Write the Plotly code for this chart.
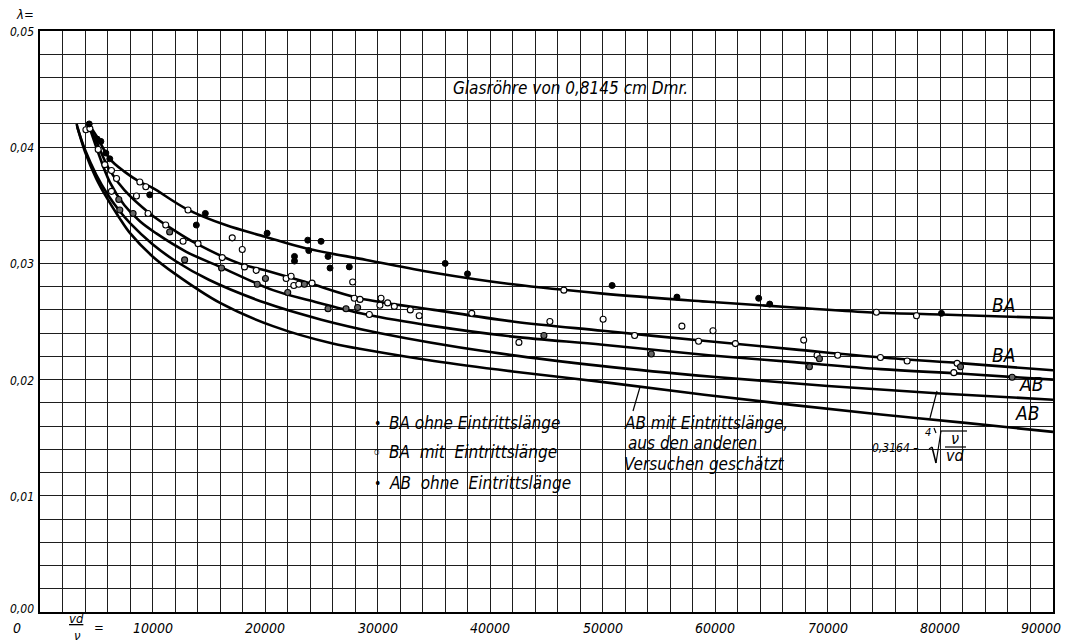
import plotly.graph_objects as go

# ---------------- data ----------------
# curves: Reynolds number vd/nu  and  lambda
ba_ohne_curve_v = [4300, 5000, 6200, 7500, 8900, 10000, 13000, 16500, 20000, 23600, 29000, 35000, 42000, 50000, 59400, 67000, 73500, 80000, 90000]
ba_ohne_curve_l = [0.0420, 0.0410, 0.0390, 0.0379, 0.0370, 0.0365, 0.0347, 0.0333, 0.0323, 0.0313, 0.0303, 0.0292, 0.0282, 0.0274, 0.0267, 0.0262, 0.0258, 0.0256, 0.0253]

ba_mit_curve_v = [4300, 5000, 6200, 7500, 9750, 12000, 13900, 17700, 20000, 23600, 28400, 35000, 42000, 50000, 59400, 67000, 74700, 82000, 90000]
ba_mit_curve_l = [0.0420, 0.0405, 0.0380, 0.0363, 0.0343, 0.0328, 0.0317, 0.0300, 0.0294, 0.0284, 0.0270, 0.0260, 0.0250, 0.0242, 0.0233, 0.0226, 0.0219, 0.0214, 0.0208]

ab_ohne_curve_v = [4300, 5000, 6200, 7500, 8900, 10300, 13000, 16000, 20700, 24000, 29000, 35000, 42000, 50000, 59400, 67000, 74700, 82000, 90000]
ab_ohne_curve_l = [0.0420, 0.0400, 0.0370, 0.0350, 0.0336, 0.0326, 0.0310, 0.0297, 0.0277, 0.0268, 0.0256, 0.0246, 0.0237, 0.0230, 0.0221, 0.0215, 0.0209, 0.0205, 0.0200]

blasius_v = [3300, 4000, 5000, 6000, 7000, 8000, 10000, 12000, 15000, 20000, 25000, 30000, 40000, 50000, 60000, 70000, 80000, 90000]
blasius_l = [0.04175, 0.03978, 0.03763, 0.03595, 0.03459, 0.03346, 0.03164, 0.03023, 0.02859, 0.02661, 0.02516, 0.02404, 0.02237, 0.02116, 0.02022, 0.01945, 0.01881, 0.01827]

ab_mit_curve_v = [3250, 4000, 5000, 5900, 7000, 8000, 10000, 12000, 16000, 20700, 26000, 29300, 35000, 42000, 50800, 59000, 67000, 74700, 82000, 90000]
ab_mit_curve_l = [0.0420, 0.0396, 0.0373, 0.0357, 0.0340, 0.0326, 0.0306, 0.0291, 0.0266, 0.0246, 0.0231, 0.0225, 0.0216, 0.0207, 0.0197, 0.0187, 0.0178, 0.0170, 0.0163, 0.0155]

# measured points
ba_ohne_v = [4370, 5080, 5410, 5850, 6200, 9750, 14690, 13890, 20180, 23790, 24970, 23880, 22610, 22610, 25590, 25770, 27480, 36000, 37980, 50830, 56590, 63850, 64830, 80090]
ba_ohne_l = [0.0420, 0.0407, 0.0405, 0.0395, 0.0390, 0.0359, 0.0343, 0.0333, 0.0326, 0.0320, 0.0319, 0.0311, 0.0306, 0.0302, 0.0306, 0.0296, 0.0297, 0.0300, 0.0291, 0.0281, 0.0271, 0.0270, 0.0265, 0.0257]

ba_mit_v = [4080, 4430, 5170, 5760, 6350, 6800, 8870, 9400, 8570, 6350, 9600, 11170, 12710, 14040, 13150, 16190, 17080, 17970, 18170, 19210,
            21870, 22310, 22550, 22990, 24170, 27780, 27920, 28430, 29260, 30300, 30200, 30890, 31480, 32900, 33690, 38360, 42550, 45300,
            46540, 50030, 52830, 57030, 58510, 59790, 61780, 67850, 69040, 70870, 74310, 74670, 77040, 77870, 81480, 81190]
ba_mit_l = [0.0415, 0.0416, 0.0398, 0.0385, 0.0380, 0.0373, 0.0370, 0.0366, 0.0358, 0.0362, 0.0343, 0.0333, 0.0319, 0.0317, 0.0346, 0.0305, 0.0322, 0.0312, 0.0297, 0.0294,
            0.0287, 0.0289, 0.0281, 0.0282, 0.0283, 0.0284, 0.0270, 0.0269, 0.0256, 0.0270, 0.0264, 0.0266, 0.0263, 0.0260, 0.0255, 0.0257, 0.0232, 0.0250,
            0.0277, 0.0252, 0.0238, 0.0246, 0.0233, 0.0242, 0.0231, 0.0234, 0.0221, 0.0221, 0.0258, 0.0219, 0.0216, 0.0255, 0.0214, 0.0206]

ab_ohne_v = [7000, 7090, 8270, 11520, 12850, 16130, 19300, 20030, 22010, 23490, 25590, 27190, 28220, 44770, 54310, 69250, 68360, 81780, 86370]
ab_ohne_l = [0.0355, 0.0346, 0.0343, 0.0327, 0.0303, 0.0296, 0.0282, 0.0287, 0.0275, 0.0282, 0.0261, 0.0261, 0.0262, 0.0238, 0.0222, 0.0218, 0.0211, 0.0211, 0.0202]

x_tick_vals = [10000, 20000, 30000, 40000, 50000, 60000, 70000, 80000]
x_tick_text = ["10000", "20000", "30000", "40000", "50000", "60000", "70000", "80000"]
y_tick_vals = [0.01, 0.02, 0.03, 0.04, 0.05]
y_tick_text = ["0,01", "0,02", "0,03", "0,04", "0,05"]

# ---------------- layout geometry (page pixels) ----------------
PAGE = 8                      # default body margin of the html page
W, H = 1075 - PAGE, 644 - PAGE
L, R, T, B = 40, 1053, 31, 612   # wanted plot area in page pixels
XMAX, YMAX = 90000, 0.05
FONT = "DejaVu Sans Condensed, DejaVu Sans, Liberation Sans"


def X(px):
    return (px - L) / (R - L) * XMAX


def Y(py):
    return (B - py) / (B - T) * YMAX


def PX(px):
    return (px - L) / (R - L)


def PY(py):
    return (B - py) / (B - T)


fig = go.Figure()

curve_style = dict(color="black", width=2.6, shape="spline", smoothing=1.0)
for cv, cl in [(ba_ohne_curve_v, ba_ohne_curve_l), (ba_mit_curve_v, ba_mit_curve_l),
               (ab_ohne_curve_v, ab_ohne_curve_l), (blasius_v, blasius_l),
               (ab_mit_curve_v, ab_mit_curve_l)]:
    fig.add_trace(go.Scatter(x=cv, y=cl, mode="lines", line=curve_style,
                             hoverinfo="skip", showlegend=False))

fig.add_trace(go.Scatter(x=ba_mit_v, y=ba_mit_l, mode="markers",
                         marker=dict(symbol="circle", size=6, color="white",
                                     line=dict(color="black", width=1.1)),
                         showlegend=False))
fig.add_trace(go.Scatter(x=ab_ohne_v, y=ab_ohne_l, mode="markers",
                         marker=dict(symbol="circle", size=6, color="#666666",
                                     line=dict(color="black", width=1.1)),
                         showlegend=False))
fig.add_trace(go.Scatter(x=ba_ohne_v, y=ba_ohne_l, mode="markers",
                         marker=dict(symbol="circle", size=6, color="black",
                                     line=dict(color="black", width=1)),
                         showlegend=False))

ann = []


def txt(s, px, py, size=13, xa="center", ya="middle"):
    ann.append(dict(text=s, x=PX(px), y=PY(py), xref="paper", yref="paper", showarrow=False,
                    xanchor=xa, yanchor=ya,
                    font=dict(family=FONT, size=size, color="black", style="italic")))


# axis labels
for v, t in zip(x_tick_vals, x_tick_text):
    txt(t, L + v / XMAX * (R - L), 628, size=14)
txt("0", 17, 628, size=14)
txt("90000", 1041, 628, size=14)
for v, t in zip(y_tick_vals, y_tick_text):
    txt(t, 36, B - v / YMAX * (B - T) + 1, size=12, xa="right")
txt("0,00", 36, 609, size=12, xa="right")
txt("λ=", 25, 15, size=13)
txt("<u>vd</u>", 76, 618, size=13)
txt("ν", 77, 635, size=13)
txt("=", 99, 627, size=13)

# title inside plot
txt("Glasröhre von 0,8145 cm Dmr.", 570, 88, size=17)

# legend rows
txt("•", 377, 423, size=14)
txt("BA ohne Eintrittslänge", 387, 423, size=17, xa="left")
txt("◦", 377, 452, size=18)
txt("BA  mit  Eintrittslänge", 387, 452, size=17, xa="left")
txt("•", 377, 483, size=14)
txt("AB  ohne  Eintrittslänge", 387, 483, size=17, xa="left")

# AB mit note
txt("AB mit Eintrittslänge,", 622, 423, size=17, xa="left")
txt("aus den anderen", 626, 443, size=17, xa="left")
txt("Versuchen geschätzt", 622, 464, size=17, xa="left")

# curve labels at right
txt("BA", 1003, 305, size=19)
txt("BA", 1003, 355, size=19)
txt("AB", 1031, 384, size=19)
txt("AB", 1027, 413, size=19)

# Blasius formula
txt("0,3164 –", 921, 448, size=12, xa="right")
txt("4", 928, 432, size=11)
txt("ν", 955, 438, size=16)
txt("vd", 955, 455, size=16)

shapes = []


def seg(x0, y0, x1, y1, w=1.2):
    shapes.append(dict(type="line", x0=X(x0), y0=Y(y0), x1=X(x1), y1=Y(y1),
                       xref="x", yref="y", line=dict(color="black", width=w)))


# radical sign
seg(929, 449, 932, 447)
seg(932, 447, 936, 463, 1.6)
seg(936, 463, 941, 431)
seg(941, 431, 967, 431)
seg(945, 447, 966, 447)
# pointer lines
seg(930, 418, 937, 391)
seg(633, 411, 640, 387)
seg(934, 428, 936, 433)

fig.update_layout(
    width=W, height=H, autosize=False,
    margin=dict(l=L - PAGE, r=(W + PAGE) - R, t=T - PAGE, b=(H + PAGE) - B),
    paper_bgcolor="white", plot_bgcolor="white",
    annotations=ann, shapes=shapes,
    xaxis=dict(range=[0, XMAX], dtick=2000, tick0=0, showgrid=True,
               gridcolor="#1e1e1e", gridwidth=1, showticklabels=False, ticks="",
               zeroline=False, showline=True, linecolor="black", linewidth=2, mirror=True),
    yaxis=dict(range=[0, YMAX], dtick=0.002, tick0=0, showgrid=True,
               gridcolor="#1e1e1e", gridwidth=1, showticklabels=False, ticks="",
               zeroline=False, showline=True, linecolor="black", linewidth=2, mirror=True),
)

fig.write_html("out.html")
